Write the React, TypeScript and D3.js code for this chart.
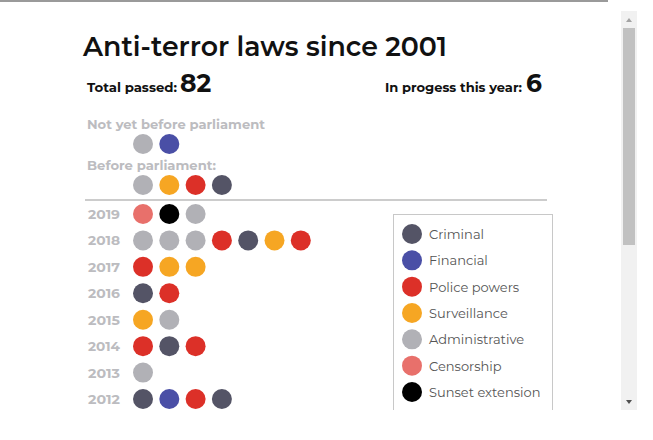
import { useEffect, useRef } from 'react'
import * as d3 from 'd3'

const CATEGORIES = ['criminal', 'financial', 'police', 'surveillance', 'admin', 'censorship', 'sunset']
const CATEGORY_LABELS = ['Criminal', 'Financial', 'Police powers', 'Surveillance', 'Administrative', 'Censorship', 'Sunset extension']
const CATEGORY_COLORS = ['#545466', '#4a4fa6', '#dc3028', '#f6a623', '#b1b1b6', '#e8706b', '#000000']

const NOT_YET = ['admin', 'financial']
const BEFORE = ['admin', 'surveillance', 'police', 'criminal']

const YEARS = ['2019', '2018', '2017', '2016', '2015', '2014', '2013', '2012']
const YEAR_LAWS = [
  ['censorship', 'sunset', 'admin'],
  ['admin', 'admin', 'admin', 'police', 'criminal', 'surveillance', 'police'],
  ['police', 'surveillance', 'surveillance'],
  ['criminal', 'police'],
  ['surveillance', 'admin'],
  ['police', 'criminal', 'police'],
  ['admin'],
  ['criminal', 'financial', 'police', 'criminal'],
]

const TOTAL_PASSED = 82
const IN_PROGRESS = 6

const FONT = "Montserrat, 'DejaVu Sans', sans-serif"

export default function App() {
  const svgRef = useRef<SVGSVGElement>(null)

  useEffect(() => {
    if (!svgRef.current) return
    const svg = d3.select(svgRef.current)
    svg.selectAll('*').remove()

    const W = 653
    const H = 440
    const color = d3.scaleOrdinal<string, string>().domain(CATEGORIES).range(CATEGORY_COLORS)
    const dotX = d3.scaleLinear().domain([0, 1]).range([143, 169.3])
    const R = 10

    // top rule of the embed frame
    svg.append('line').attr('x1', 0).attr('x2', 608).attr('y1', 1).attr('y2', 1)
      .attr('stroke', '#9a9a9a').attr('stroke-width', 2)

    const clip = svg.append('defs').append('clipPath').attr('id', 'view')
    clip.append('rect').attr('x', 0).attr('y', 0).attr('width', 615).attr('height', 410)
    const g = svg.append('g').attr('clip-path', 'url(#view)').attr('font-family', FONT)

    // Title
    g.append('text').attr('x', 83).attr('y', 56).attr('font-size', 27).attr('font-weight', 600)
      .attr('fill', '#111').attr('textLength', 364).attr('lengthAdjust', 'spacingAndGlyphs')
      .text('Anti-terror laws since 2001')

    g.append('text').attr('x', 87).attr('y', 92).attr('fill', '#111').attr('font-weight', 700)
      .attr('font-size', 12.5).attr('textLength', 90).attr('lengthAdjust', 'spacingAndGlyphs')
      .text('Total passed:')
    g.append('text').attr('x', 180).attr('y', 92).attr('fill', '#111').attr('font-weight', 700)
      .attr('font-size', 25).text(String(TOTAL_PASSED))

    g.append('text').attr('x', 385).attr('y', 92).attr('fill', '#111').attr('font-weight', 700)
      .attr('font-size', 12.5).attr('textLength', 137).attr('lengthAdjust', 'spacingAndGlyphs')
      .text('In progess this year:')
    g.append('text').attr('x', 526).attr('y', 92).attr('fill', '#111').attr('font-weight', 700)
      .attr('font-size', 25).text(String(IN_PROGRESS))

    // pending sections
    const gray = '#bcbcc0'
    g.append('text').attr('x', 87).attr('y', 129).attr('font-size', 12.5).attr('font-weight', 700)
      .attr('fill', gray).attr('textLength', 178).attr('lengthAdjust', 'spacingAndGlyphs')
      .text('Not yet before parliament')
    g.selectAll('.ny').data(NOT_YET).join('circle')
      .attr('cx', (_, i) => dotX(i)).attr('cy', 144).attr('r', R).attr('fill', d => color(d))

    g.append('text').attr('x', 87).attr('y', 170).attr('font-size', 12.5).attr('font-weight', 700)
      .attr('fill', gray).attr('textLength', 129).attr('lengthAdjust', 'spacingAndGlyphs')
      .text('Before parliament:')
    g.selectAll('.bp').data(BEFORE).join('circle')
      .attr('cx', (_, i) => dotX(i)).attr('cy', 185).attr('r', R).attr('fill', d => color(d))

    g.append('line').attr('x1', 85).attr('x2', 547).attr('y1', 200).attr('y2', 200)
      .attr('stroke', '#999').attr('stroke-width', 1)

    // year rows
    const yScale = d3.scalePoint<string>().domain(YEARS).range([214, 399])
    YEARS.forEach((yr, yi) => {
      const cy = yScale(yr)!
      g.append('text').attr('x', 88).attr('y', cy + 5).attr('font-size', 12).attr('font-weight', 700)
        .attr('fill', gray).attr('textLength', 32).attr('lengthAdjust', 'spacingAndGlyphs').text(yr)
      g.selectAll(`.d${yr}`).data(YEAR_LAWS[yi]).join('circle')
        .attr('cx', (_, i) => dotX(i)).attr('cy', cy).attr('r', R).attr('fill', d => color(d))
    })

    // legend
    g.append('rect').attr('x', 393.5).attr('y', 214.5).attr('width', 159).attr('height', 220)
      .attr('fill', '#fff').attr('stroke', '#c8c8c8')
    const ly = d3.scalePoint<string>().domain(CATEGORIES).range([234, 392])
    CATEGORIES.forEach((c, i) => {
      g.append('circle').attr('cx', 412).attr('cy', ly(c)!).attr('r', 10).attr('fill', color(c))
      g.append('text').attr('x', 429).attr('y', ly(c)! + 5).attr('font-size', 13).attr('fill', '#555')
        .text(CATEGORY_LABELS[i])
    })

    // scrollbar
    svg.append('rect').attr('x', 621).attr('y', 11).attr('width', 16).attr('height', 399).attr('fill', '#f1f1f1')
    svg.append('rect').attr('x', 623).attr('y', 28).attr('width', 12).attr('height', 217).attr('fill', '#c1c1c1')
    svg.append('path').attr('d', 'M626,22 L629,18 L632,22 Z').attr('fill', '#a3a3a3')
    svg.append('path').attr('d', 'M626,400 L629,404 L632,400 Z').attr('fill', '#505050')

    svg.attr('width', W).attr('height', H)
  }, [])

  return (
    <svg ref={svgRef} width={653} height={440}
      style={{ position: 'absolute', left: 0, top: 0, background: '#fff' }} />
  )
}
